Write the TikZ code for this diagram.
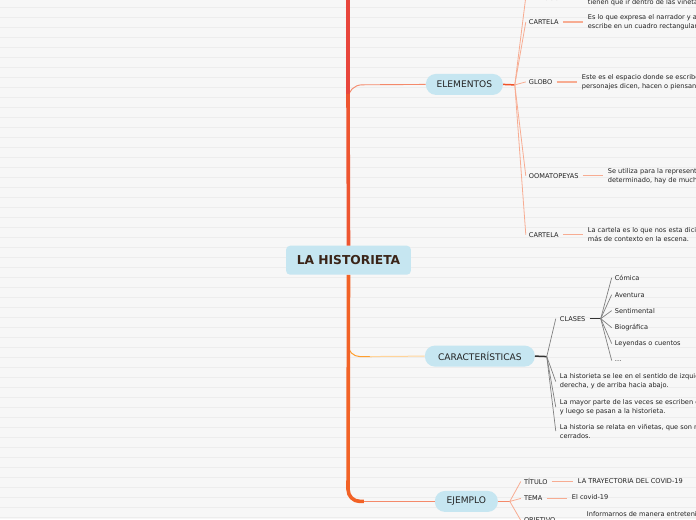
\documentclass[tikz,border=0pt]{standalone}
\usepackage{fontspec}
\setmainfont{DejaVu Sans}
\usetikzlibrary{calc}
\definecolor{bgcol}{HTML}{F7F7F7}
\definecolor{rulecol}{HTML}{EDEDED}
\definecolor{topiccol}{HTML}{C6E6F1}
\definecolor{rootbrown}{HTML}{3A2418}
\definecolor{txtcol}{HTML}{222222}
\definecolor{trunkred}{HTML}{E8453C}
\definecolor{trunkmid}{HTML}{EE5530}
\definecolor{trunkorange}{HTML}{F26226}
\definecolor{salmon}{HTML}{F4896A}
\definecolor{salmonlt}{HTML}{F7AC92}
\definecolor{salmonhub}{HTML}{F05228}
\definecolor{orangebr}{HTML}{FF9F2E}
\definecolor{orangelt}{HTML}{FFD49A}
\definecolor{greyhub}{HTML}{333333}
\definecolor{greyfan}{HTML}{808080}
\tikzset{
  root/.style={fill=topiccol,rounded corners=4pt,text=rootbrown,inner sep=0pt,
    font=\bfseries\fontsize{12.3}{14}\selectfont,minimum width=125pt,minimum height=29pt},
  topic/.style={fill=topiccol,rounded corners=10pt,text=txtcol,inner sep=0pt,
    font=\fontsize{9.1}{10}\selectfont,minimum height=21pt},
  leaf/.style={anchor=west,inner sep=0pt,text=txtcol,font=\fontsize{6.6}{9}\selectfont},
  desc/.style={leaf,align=left},
  fanline/.style={salmonlt,line width=0.8pt},
  tieline/.style={salmonlt,line width=1.2pt},
}
\begin{document}
\begin{tikzpicture}[x=1pt,y=-1pt]
\fill[bgcol] (0,0) rectangle (696,520);
\foreach \y in {7.5,17.5,...,517.5} \draw[rulecol,line width=0.8pt] (0,\y)--(696,\y);
\useasboundingbox (0,0) rectangle (696,520);
\clip (0,0) rectangle (696,520);

% topics
\node[root] (root) at (348.5,260.5) {LA HISTORIETA};
\node[topic,minimum width=77pt] (elem) at (464.5,84.5) {ELEMENTOS};
\node[topic,minimum width=110pt] (carac) at (480,356.5) {CARACTERÍSTICAS};
\node[topic,minimum width=63pt] (ejem) at (466.5,502) {EJEMPLO};

% trunk and branches
\draw[salmon,line width=0.9pt,rounded corners=14pt] (348,110) -- (348,85) -- (elem.west);
\draw[orangebr,line width=1pt,rounded corners=12pt] (348,335) -- (348,357) -- (372,357);
\draw[orangelt,line width=1pt] (370,357) -- (carac.west);
\draw[salmon,line width=0.9pt] (360,502) -- (ejem.west);
\draw[trunkred,line width=3.6pt] (348,-10) -- (348,95);
\draw[trunkmid,line width=3.6pt] (348,94) -- (root.north);
\draw[trunkorange,line width=3.6pt,rounded corners=12pt] (root.south) -- (348,502) -- (364,502);

% ELEMENTOS
\coordinate (elemhub) at (515,85);
\draw[salmonhub,line width=1.5pt] (elem.east) -- (elemhub);
\node[leaf] (dialogo) at (529,-3) {DIÁLOGO};
\node[leaf] (cartelaA) at (529,22) {CARTELA};
\node[leaf] (globo) at (529,82) {GLOBO};
\node[leaf] (onom) at (529,176) {OOMATOPEYAS};
\node[leaf] (cartelaB) at (529,235) {CARTELA};
\foreach \n in {dialogo,cartelaA,globo,onom,cartelaB}
  \draw[fanline] (elemhub) -- ([xshift=-3pt]\n.west);
\node[desc] (dialogod) at (588,-2.5) {\strut\\tienen que ir dentro de las viñetas};
\node[desc] (cartelaAd) at (588,22) {Es lo que expresa el narrador y a\\escribe en un cuadro rectangular};
\node[desc] (globod) at (582,82) {Este es el espacio donde se escribe\\personajes dicen, hacen o piensan.};
\node[desc] (onomd) at (608,176) {Se utiliza para la representación\\determinado, hay de muchos};
\node[desc] (cartelaBd) at (588,235) {La cartela es lo que nos esta diciendo\\más de contexto en la escena.};
\foreach \n in {cartelaA,globo,onom,cartelaB}
  \draw[tieline] ([xshift=4pt]\n.east) -- ([xshift=-5pt]\n d.west);

% CARACTERISTICAS
\coordinate (carachub) at (547,357);
\draw[greyhub,line width=1.5pt] (carac.east) -- (carachub);
\node[leaf] (clases) at (560,319) {CLASES};
\node[desc] (lee) at (560,382) {La historieta se lee en el sentido de izquierda a\\derecha, y de arriba hacia abajo.};
\node[desc] (mayor) at (560,407.5) {La mayor parte de las veces se escriben en\\y luego se pasan a la historieta.};
\node[desc] (relata) at (560,431.5) {La historia se relata en viñetas, que son r\\cerrados.};
\foreach \n in {clases,lee,mayor,relata}
  \draw[greyfan,line width=0.7pt] (carachub) -- ([xshift=-4pt]\n.west);
\coordinate (claseshub) at (601,319);
\draw[greyhub,line width=1.5pt] ([xshift=4pt]clases.east) -- (claseshub);
\foreach \t/\y [count=\i] in {Cómica/278,Aventura/295,Sentimental/311,Biográfica/328,Leyendas o cuentos/344,\ldots/361}{
  \node[leaf] (clase\i) at (615,\y) {\t};
  \draw[greyfan,line width=0.7pt] (claseshub) -- ([xshift=-3pt]clase\i.west);
}

% EJEMPLO
\coordinate (ejemhub) at (510,502);
\draw[salmon,line width=1.5pt] (ejem.east) -- (ejemhub);
\node[leaf] (titulo) at (524,482) {TÍTULO};
\node[leaf] (tema) at (524,499) {TEMA};
\node[leaf] (objetivo) at (524,521) {OBJETIVO};
\foreach \n in {titulo,tema,objetivo}
  \draw[fanline] (ejemhub) -- ([xshift=-3pt]\n.west);
\node[leaf] (titulod) at (578,482) {LA TRAYECTORIA DEL COVID-19};
\node[leaf] (temad) at (572,498) {El covid-19};
\node[leaf] (objetivod) at (587,515) {Informarnos de manera entretenida};
\draw[tieline] ([xshift=4pt]titulo.east) -- ([xshift=-5pt]titulod.west);
\draw[tieline] ([xshift=4pt]tema.east) -- ($(temad.west |- tema.east)+(-5,0)$);
\draw[tieline] ([xshift=4pt]objetivo.east) -- ($(objetivod.west |- objetivo.east)+(-5,0)$);
\end{tikzpicture}
\end{document}
